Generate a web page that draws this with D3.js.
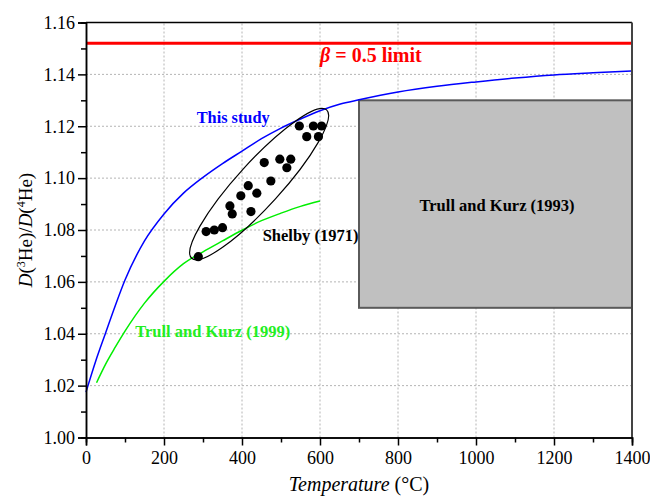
<!DOCTYPE html>
<html><head><meta charset="utf-8">
<script src="https://cdn.jsdelivr.net/npm/d3@7"></script>
<style>body{margin:0;background:#fff}svg{display:block}text{font-family:"Liberation Serif","Times New Roman",serif}</style>
</head><body>
<svg id="c" width="650" height="499"></svg>
<script>
// ---- data ----
const xTicks = [0,200,400,600,800,1000,1200,1400];
const yTicks = [1.00,1.02,1.04,1.06,1.08,1.10,1.12,1.14,1.16];
const blueT = [0,25,50,75,100,150,200,250,300,350,400,450,500,550,600,650,700,800,900,1000,1100,1200,1300,1400];
const blueV = [1.0175,1.0295,1.0402,1.0508,1.0607,1.0758,1.0862,1.0942,1.1003,1.1056,1.1104,1.1152,1.1193,1.1228,1.1260,1.1285,1.1302,1.1332,1.1354,1.1371,1.1386,1.1398,1.1406,1.1413];
const greenT = [27,50,75,100,150,200,250,300,350,400,450,500,550,600];
const greenV = [1.0211,1.0282,1.0348,1.0410,1.0518,1.0602,1.0670,1.0716,1.0758,1.0799,1.0836,1.0865,1.0891,1.0912];
const shelbyT = [547,583,604,566,596,457,497,525,515,474,416,397,438,369,375,423,308,329,350,288];
const shelbyV = [1.1201,1.1201,1.1201,1.1160,1.1160,1.1060,1.1073,1.1073,1.1040,1.0989,1.0971,1.0932,1.0942,1.0893,1.0862,1.0871,1.0794,1.0800,1.0809,1.0697];
const betaLimit = 1.152;
const box1993 = {t0:700, t1:1400, v0:1.05, v1:1.13};
const ellipseEnds = [[271,1.0691],[617,1.1263]];

// ---- scales ----
const svg = d3.select("#c");
const x = d3.scaleLinear().domain([0,1400]).range([86,632]);
const y = d3.scaleLinear().domain([1.00,1.16]).range([437.5,22.5]);

// grid
const g = svg.append("g");
g.selectAll(".gx").data(xTicks.slice(1,-1)).enter().append("line")
  .attr("x1",d=>x(d)).attr("x2",d=>x(d)).attr("y1",y(1.00)).attr("y2",y(1.16))
  .attr("stroke","#b4b4b4").attr("stroke-width",1).attr("stroke-dasharray","2,2");
g.selectAll(".gy").data(yTicks.slice(1,-1)).enter().append("line")
  .attr("y1",d=>y(d)).attr("y2",d=>y(d)).attr("x1",x(0)).attr("x2",x(1400))
  .attr("stroke","#b4b4b4").attr("stroke-width",1).attr("stroke-dasharray","2,2");

// box
svg.append("rect").attr("x",x(box1993.t0)).attr("y",y(box1993.v1))
  .attr("width",x(box1993.t1)-x(box1993.t0)).attr("height",y(box1993.v0)-y(box1993.v1))
  .attr("fill","#c0c0c0").attr("stroke","#5a5a5a").attr("stroke-width",2);

// red line
svg.append("line").attr("x1",x(0)).attr("x2",x(1400)).attr("y1",y(betaLimit)).attr("y2",y(betaLimit))
  .attr("stroke","#ff0000").attr("stroke-width",3);

const line = d3.line().x(d=>x(d[0])).y(d=>y(d[1])).curve(d3.curveMonotoneX);
svg.append("path").attr("d",line(blueT.map((t,i)=>[t,blueV[i]])))
  .attr("fill","none").attr("stroke","#0000ff").attr("stroke-width",1.5);
svg.append("path").attr("d",line(greenT.map((t,i)=>[t,greenV[i]])))
  .attr("fill","none").attr("stroke","#00ee00").attr("stroke-width",1.5);

// ellipse
const p1=[x(ellipseEnds[0][0]),y(ellipseEnds[0][1])], p2=[x(ellipseEnds[1][0]),y(ellipseEnds[1][1])];
const cx=(p1[0]+p2[0])/2, cy=(p1[1]+p2[1])/2;
const rx=Math.hypot(p2[0]-p1[0],p2[1]-p1[1])/2;
const ang=Math.atan2(p2[1]-p1[1],p2[0]-p1[0])*180/Math.PI;
svg.append("ellipse").attr("cx",cx).attr("cy",cy).attr("rx",rx).attr("ry",22)
  .attr("transform",`rotate(${ang},${cx},${cy})`)
  .attr("fill","none").attr("stroke","#000").attr("stroke-width",1.2);

// dots
svg.selectAll(".dot").data(shelbyT.map((t,i)=>[t,shelbyV[i]])).enter().append("circle")
  .attr("cx",d=>x(d[0])).attr("cy",d=>y(d[1])).attr("r",4.6).attr("fill","#000");

// frame
svg.append("line").attr("x1",x(0)).attr("x2",x(1400)).attr("y1",y(1.16)).attr("y2",y(1.16)).attr("stroke","#000").attr("stroke-width",1.5);
svg.append("line").attr("x1",x(1400)).attr("x2",x(1400)).attr("y1",y(1.16)).attr("y2",y(1.0)).attr("stroke","#444").attr("stroke-width",2);

// axes
const xa = d3.axisBottom(x).tickValues(xTicks).tickSize(8).tickPadding(6).tickFormat(d3.format("d"));
const xm = d3.axisBottom(x).tickValues(d3.range(100,1400,200)).tickSize(5).tickFormat("");
const ya = d3.axisLeft(y).tickValues(yTicks).tickSize(8).tickPadding(3).tickFormat(d3.format(".2f"));
const ym = d3.axisLeft(y).tickValues(d3.range(1.01,1.16,0.02)).tickSize(5).tickFormat("");
function style(sel){sel.select(".domain").attr("stroke","#000").attr("stroke-width",1.5);
  sel.selectAll(".tick line").attr("stroke","#000").attr("stroke-width",1.5);
  sel.selectAll("text").attr("font-size",18).attr("fill","#000").attr("font-family","Liberation Serif");}
svg.append("g").attr("transform",`translate(0,${y(1.0)})`).call(xm).call(style);
svg.append("g").attr("transform",`translate(0,${y(1.0)})`).call(xa).call(style);
svg.append("g").attr("transform",`translate(${x(0)},0)`).call(ym).call(style);
svg.append("g").attr("transform",`translate(${x(0)},0)`).call(ya).call(style);

// axis titles
const xt = svg.append("text").attr("x",(x(0)+x(1400))/2).attr("y",491).attr("text-anchor","middle").attr("font-size",20);
xt.append("tspan").attr("font-style","italic").text("Temperature");
xt.append("tspan").text(" (°C)");
const yt = svg.append("text").attr("transform",`translate(32,${y(1.08)}) rotate(-90)`).attr("text-anchor","middle").attr("font-size",19);
yt.append("tspan").attr("font-style","italic").text("D");
yt.append("tspan").text("(");
yt.append("tspan").attr("font-size",12).attr("dy",-7).text("3");
yt.append("tspan").attr("dy",7).text("He)/");
yt.append("tspan").attr("font-style","italic").text("D");
yt.append("tspan").text("(");
yt.append("tspan").attr("font-size",12).attr("dy",-7).text("4");
yt.append("tspan").attr("dy",7).text("He)");

// annotations
const bt = svg.append("text").attr("x",x(600)).attr("y",y(1.1449)).attr("font-size",20).attr("font-weight","bold").attr("fill","#ff0000");
bt.append("tspan").attr("font-style","italic").text("β");
bt.append("tspan").text(" = 0.5 limit");
svg.append("text").attr("x",x(284)).attr("y",y(1.1211)).attr("font-size",16.3).attr("font-weight","bold").attr("fill","#0000ff").text("This study");
svg.append("text").attr("x",x(453)).attr("y",y(1.0759)).attr("font-size",16.5).attr("font-weight","bold").attr("fill","#000").text("Shelby (1971)");
svg.append("text").attr("x",x(126)).attr("y",y(1.0386)).attr("font-size",16.5).attr("font-weight","bold").attr("fill","#22ee22").text("Trull and Kurz (1999)");
svg.append("text").attr("x",x(1054)).attr("y",y(1.0873)).attr("text-anchor","middle").attr("font-size",16.5).attr("font-weight","bold").attr("fill","#000").text("Trull and Kurz (1993)");
</script>
</body></html>
